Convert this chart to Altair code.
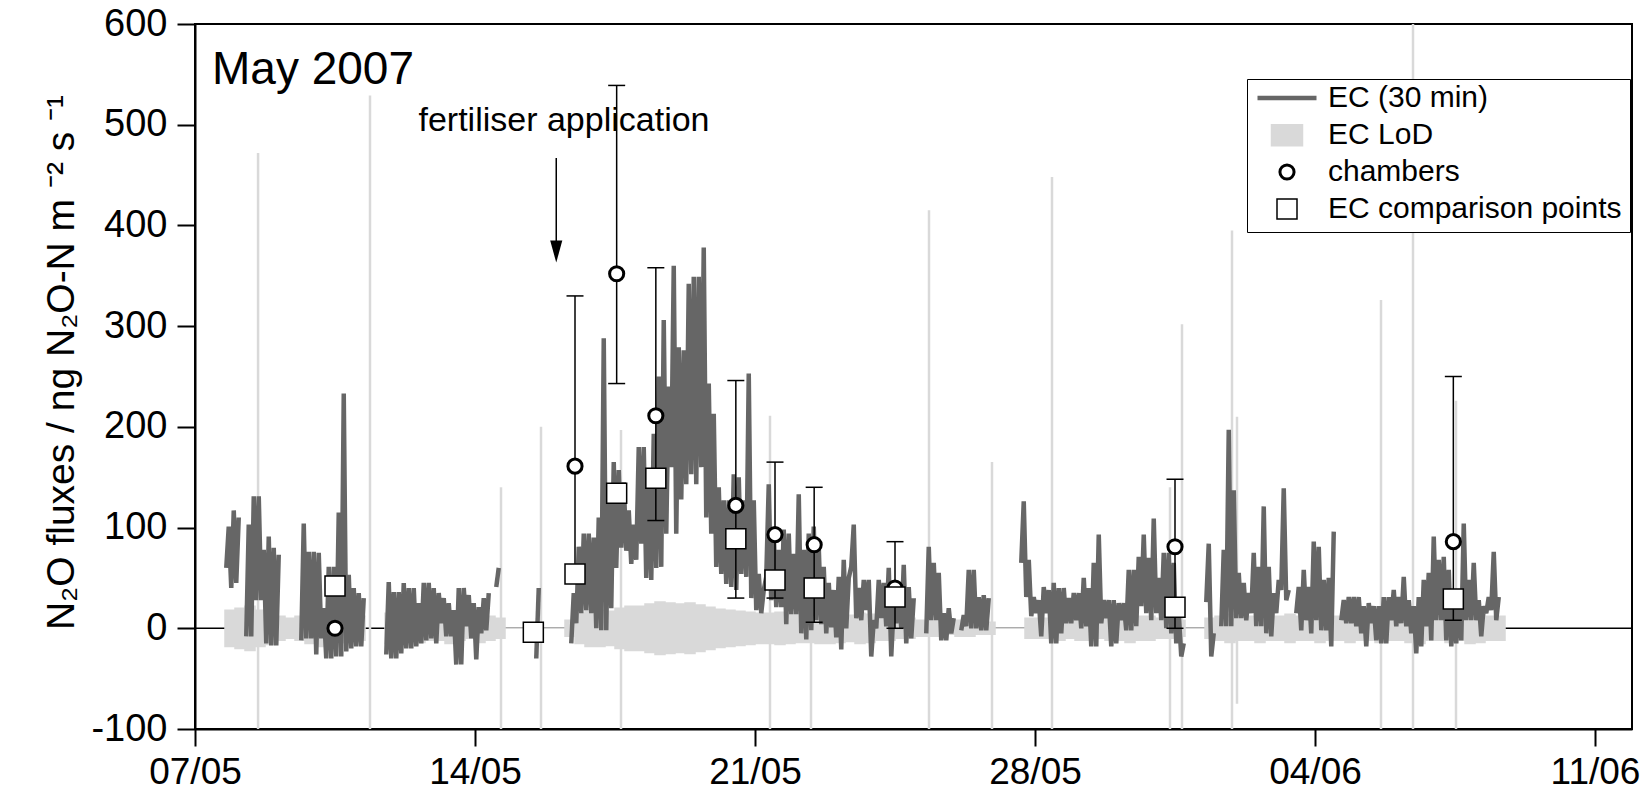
import altair as alt
import pandas as pd

FONT = "Arial"
START = pd.Timestamp("2007-05-07 00:00")
EC_BIN_HOURS = 3
LOD_BIN_HOURS = 6

# ---- EC (30 min) flux envelope, read per 3-hour bin (low / high), None = no data ----
ec_low = [
    None, None, None, None, None, None, 60, 40,          # 07/05
    45, None, -8, -8, 28, 28, -15, -17,                  # 08/05
    -17, None, None, None, None, -12, -10, -10,          # 09/05
    -26, -10, -30, -30, -28, -28, -23, -20,              # 10/05
    -18, -18, None, None, None, None, -26, -30,          # 11/05
    -30, -25, -20, -20, -18, -15, -12, -10,              # 12/05
    -15, 5, -8, -8, -36, -36, 2, -10,                    # 13/05
    -31, -5, -2, None, 41, None, None, None,             # 14/05
    None, None, None, None, -30, None, None, None,       # 15/05
    None, None, None, -15, 5, 15, 18, 15,                # 16/05
    0, -2, -2, 20, 60, 80, 77, 64,                       # 17/05
    68, 84, 50, 48, 60, 61, 94, 160,                     # 18/05
    94, 128, 143, 153, 143, 160, 110, 94,                # 19/05
    61, 54, 44, 41, 38, 54, 51, 30,                      # 20/05
    18, 15, 51, 28, 21, 21, 4, 14,                       # 21/05
    14, -5, -11, -2, 8, 4, -5, 1,                        # 22/05
    -9, -21, 0, 61, 10, 8, 18, -28,                      # 23/05
    0, 10, 2, -28, 5, 0, -15, -10,                       # 24/05
    None, None, -5, 8, 8, -12, -12, -5,                  # 25/05
    None, -2, 2, 0, 0, -2, -2, None,                     # 26/05
    None, None, None, None, None, 65, 31, 12,            # 27/05
    15, -8, 15, -15, -15, -5, 5, 5,                      # 28/05
    8, 0, 2, -18, -18, 5, 10, -18,                       # 29/05
    -15, 8, -2, -2, 2, 22, 15, 8,                        # 30/05
    15, 8, 0, -5, -15, -28, None, None,                  # 31/05
    None, None, 26, -28, None, 2, 2, 2,                  # 01/06
    10, 10, 8, 15, 2, 2, -5, -8,                         # 02/06
    15, 38, 28, None, 15, -2, 8, -5,                     # 03/06
    8, -2, -2, -18, None, 8, 5, 5,                       # 04/06
    2, -5, -18, 5, -12, -15, -15, 8,                     # 05/06
    2, 5, 2, -5, -25, -18, 2, -12,                       # 06/06
    8, 8, -12, -18, -15, -12, 8, 8,                      # 07/06
    8, -8, 15, 18, 8,                                    # 08/06
]
ec_high = [
    None, None, None, None, None, None, 101, 117,
    110, None, 103, 131, 131, 78, 91, 80,
    73, None, None, None, None, 104, 76, 76,
    75, 20, 61, 61, 115, 233, 53, 40,
    35, 30, None, None, None, None, 46, 36,
    36, 45, 40, 40, 25, 45, 45, 40,
    35, 30, 25, 18, 40, 40, 33, 25,
    21, 30, 35, None, 60, None, None, None,
    None, None, None, None, 40, None, None, None,
    None, None, None, 35, 81, 94, 94, 90,
    110, 288, 144, 165, 157, 145, 117, 103,
    180, 180, 150, 193, 250, 306, 240, 360,
    279, 276, 342, 349, 349, 378, 243, 213,
    140, 127, 127, 153, 150, 127, 253, 127,
    54, 38, 143, 94, 78, 98, 94, 74,
    133, 78, 94, 101, 81, 61, 45, 38,
    51, 68, 50, 103, 40, 48, 48, 8,
    48, 45, 60, 25, 40, 63, 41, 30,
    None, None, 81, 65, 55, 15, 20, 10,
    None, 13, 58, 58, 31, 33, 30, None,
    None, None, None, None, None, 126, 68, 31,
    28, 41, 38, 45, 40, 40, 30, 35,
    35, 50, 40, 65, 93, 28, 28, 28,
    25, 25, 58, 58, 71, 93, 70, 109,
    50, 75, 75, 65, 15, -15, None, None,
    None, None, 84, -5, None, 78, 197, 137,
    55, 45, 35, 75, 61, 121, 61, 35,
    48, 139, 38, None, 41, 58, 41, 86,
    81, 48, 50, 96, None, 28, 31, 31,
    31, 22, 25, 22, 22, 31, 31, 38,
    31, 51, 28, 22, 31, 48, 55, 91,
    68, 71, 58, 28, 35, 104, 48, 65,
    28, 22, 31, 76, 31,
]

# ---- EC limit of detection (half width of band), per 6-hour bin ----
lod_half = [
    None, None, None, 18,   20, 22, 18, 16,   12, 10, 12, 15,   18, 15, 14, 12,
    12, None, None, 15,     15, 12, 14, 12,   12, 15, 12, 10,   14, 12, 10, 0,
    0, 0, 0, 0,             0, 8, 15, 18,     18, 17, 20, 22,   22, 24, 26, 25,
    24, 25, 23, 21,         19, 18, 17, 16,   15, 15, 16, 15,   14, 14, 15, 15,
    14, 13, 15, 14,         12, 12, 10, 10,   8, 8, 8, 6,       8, 8, 6, 6,
    0, 0, 0, 10,            10, 10, 12, 10,   12, 12, 10, 12,   12, 14, 12, 12,
    10, 10, 8, 0,           0, 10, 12, 14,    12, 12, 14, 12,   12, 14, 12, 12,
    14, 12, 12, 14,         12, 12, 14, 12,   12, 14, 15, 12,   12, 14, 12, 15,
    14, 12, 12,
]
# isolated very large LoD values (single half-hours)
spike_times = ["2007-05-08 13:50", "2007-05-11 09:00", "2007-05-14 15:36", "2007-05-15 15:36",
               "2007-05-17 15:36", "2007-05-21 09:00", "2007-05-22 09:36", "2007-05-25 08:24",
               "2007-05-26 22:12", "2007-05-28 10:12", "2007-05-31 09:00", "2007-05-31 16:12",
               "2007-06-01 22:12", "2007-06-02 01:12", "2007-06-05 15:36", "2007-06-06 10:48",
               "2007-06-07 12:36"]
spike_low = [-100, -100, -100, -100, -100, -100, -100, -100, -100, -100, -100, -100,
             -100, -75, -100, -100, -100]
spike_high = [472, 529, 140, 200, 197, 211, 20, 415, 165, 448, 140, 302, 395, 210, 326, 600, 226]

# ---- chambers and EC comparison points ----
chamber_times = ["2007-05-10 12:00", "2007-05-15 11:00", "2007-05-16 12:00", "2007-05-17 13:00",
                 "2007-05-18 12:30", "2007-05-20 12:30", "2007-05-21 12:00", "2007-05-22 11:30",
                 "2007-05-24 12:00", "2007-05-31 12:00", "2007-06-07 11:00"]
chamber_flux = [0, -3, 161, 352, 211, 122, 93, 83, 40, 81, 86]
chamber_low = [None, None, 58, 243, 107, 30, 30, 6, 0, 0, 8]
chamber_high = [None, None, 330, 539, 358, 246, 165, 140, 86, 148, 250]
ec_comparison = [42, -4, 54, 134, 149, 89, 48, 40, 31, 21, 29]

# ---- annotations ----
title_text = ["May 2007"]
title_time = ["2007-05-07 10:12"]
title_value = [540]
note_text = ["fertiliser application"]
note_time = ["2007-05-16 05:24"]
note_value = [494]
arrow_time = ["2007-05-16 00:45"]
arrow_top = [467]
arrow_tip = [380]
arrow_head = [374]

series_domain = ["EC (30 min)", "EC LoD", "chambers", "EC comparison points"]
fill_range = ["#666666", "#d9d9d9", "white", "white"]
stroke_range = ["#666666", "#d9d9d9", "black", "black"]
shape_range = ["stroke", "M-1,-0.7H1V0.7H-1Z", "circle", "square"]
size_range = [3481, 961, 200, 400]
width_range = [4.5, 1.5, 3, 1.5]

Y_TITLE = "N\u2082O fluxes / ng N\u2082O-N m \u207b\u00b2 s \u207b\u00b9"

# ---------- build tables ----------
ec_rows = []
seg = 0
prev = None
for k, (lo, hi) in enumerate(zip(ec_low, ec_high)):
    if lo is None:
        prev = None
        continue
    if prev is None:
        seg += 1
    prev = k
    t0 = START + pd.Timedelta(hours=EC_BIN_HOURS * k)
    ec_rows.append({"t": t0 + pd.Timedelta(minutes=45), "v": lo, "seg": seg, "series": series_domain[0]})
    ec_rows.append({"t": t0 + pd.Timedelta(minutes=135), "v": hi, "seg": seg, "series": series_domain[0]})
ec_df = pd.DataFrame(ec_rows)

lod_rows = []
seg = 0
prev = None
for j, h in enumerate(lod_half):
    if h is None:
        prev = None
        continue
    if prev is None:
        seg += 1
    prev = j
    t0 = START + pd.Timedelta(hours=LOD_BIN_HOURS * j)
    for t in (t0, t0 + pd.Timedelta(hours=LOD_BIN_HOURS)):
        lod_rows.append({"t": t, "lo": -h, "hi": h, "seg": seg, "series": series_domain[1]})
lod_df = pd.DataFrame(lod_rows)

spike_df = pd.DataFrame({"t": pd.to_datetime(spike_times), "lo": spike_low, "hi": spike_high})

ct = pd.to_datetime(chamber_times)
pts_df = pd.concat([
    pd.DataFrame({"t": ct, "v": chamber_flux, "series": series_domain[2]}),
    pd.DataFrame({"t": ct, "v": ec_comparison, "series": series_domain[3]}),
], ignore_index=True)
err_df = pd.DataFrame({"t": ct, "lo": chamber_low, "hi": chamber_high}).dropna()
cap_df = pd.concat([
    pd.DataFrame({"t": err_df["t"], "v": err_df["lo"]}),
    pd.DataFrame({"t": err_df["t"], "v": err_df["hi"]}),
], ignore_index=True)

zero_df = pd.DataFrame({"v": [0]})
title_df = pd.DataFrame({"t": pd.to_datetime(title_time), "v": title_value, "txt": title_text})
note_df = pd.DataFrame({"t": pd.to_datetime(note_time), "v": note_value, "txt": note_text})
arrow_df = pd.DataFrame({"t": pd.to_datetime(arrow_time), "top": arrow_top, "tip": arrow_tip,
                         "head": arrow_head})

# ---------- encodings ----------
x_scale = alt.Scale(domain=[alt.DateTime(year=2007, month=5, date=7),
                            alt.DateTime(year=2007, month=6, date=11, hours=22, minutes=12)])
x_axis = alt.Axis(values=[alt.DateTime(year=2007, month=5, date=d) for d in (7, 14, 21, 28)]
                  + [alt.DateTime(year=2007, month=6, date=d) for d in (4, 11)],
                  format="%d/%m", labelFontSize=37, tickSize=17, labelPadding=8,
                  labelFlush=False, labelOverlap=False)
y_scale = alt.Scale(domain=[-100, 600], nice=False, zero=False)
y_axis = alt.Axis(values=[-100, 0, 100, 200, 300, 400, 500, 600], labelFontSize=38,
                  labelExpr="'' + datum.value",
                  tickSize=18, labelPadding=10, titleFontSize=39, titleFontWeight="normal",
                  titlePadding=9, titleY=338)


def X(field="t"):
    return alt.X(f"{field}:T", scale=x_scale, axis=x_axis, title=None)


def Y(field):
    return alt.Y(f"{field}:Q", scale=y_scale, axis=y_axis, title=Y_TITLE)


legend = alt.Legend(title=None)
fill_enc = alt.Fill("series:N", scale=alt.Scale(domain=series_domain, range=fill_range), legend=legend)
stroke_enc = alt.Stroke("series:N", scale=alt.Scale(domain=series_domain, range=stroke_range), legend=legend)
shape_enc = alt.Shape("series:N", scale=alt.Scale(domain=series_domain, range=shape_range), legend=legend)
size_enc = alt.Size("series:N", scale=alt.Scale(type="ordinal", domain=series_domain, range=size_range),
                    legend=legend)
sw_enc = alt.StrokeWidth("series:N", scale=alt.Scale(type="ordinal", domain=series_domain, range=width_range),
                         legend=legend)

zero_line = alt.Chart(zero_df).mark_rule(color="black", strokeWidth=1.5).encode(y=Y("v"))

spikes = alt.Chart(spike_df).mark_rule(color="#d9d9d9", strokeWidth=2.5, clip=True).encode(
    x=X(), y=Y("lo"), y2="hi:Q")

lod = alt.Chart(lod_df).mark_area(opacity=1, clip=True).encode(
    x=X(), y=Y("lo"), y2="hi:Q", detail="seg:N", fill=fill_enc, stroke=stroke_enc,
    strokeWidth=sw_enc)

ec = alt.Chart(ec_df).mark_line(opacity=1, clip=True, strokeJoin="miter").encode(
    x=X(), y=Y("v"), detail="seg:N", stroke=stroke_enc, strokeWidth=sw_enc)

err = alt.Chart(err_df).mark_rule(color="black", strokeWidth=1.5).encode(
    x=X(), y=Y("lo"), y2="hi:Q")
caps = alt.Chart(cap_df).mark_tick(color="black", orient="horizontal", size=17,
                                   thickness=1.5, opacity=1).encode(x=X(), y=Y("v"))

points = alt.Chart(pts_df).mark_point(filled=True, opacity=1).encode(
    x=X(), y=Y("v"), shape=shape_enc, fill=fill_enc, stroke=stroke_enc, size=size_enc,
    strokeWidth=sw_enc)

title_mark = alt.Chart(title_df).mark_text(font=FONT, fontSize=46, align="left",
                                           baseline="alphabetic", color="black").encode(
    x=X(), y=Y("v"), text="txt:N")
note_mark = alt.Chart(note_df).mark_text(font=FONT, fontSize=34, align="center",
                                         baseline="alphabetic", color="black").encode(
    x=X(), y=Y("v"), text="txt:N")
arrow_shaft = alt.Chart(arrow_df).mark_rule(color="black", strokeWidth=1.5).encode(
    x=X(), y=Y("top"), y2="tip:Q")
arrow_tip_mark = alt.Chart(arrow_df).mark_point(filled=True, opacity=1, color="black",
                                                shape="M-0.55,-1L0.55,-1L0,1Z", size=484).encode(
    x=X(), y=Y("head"))

chart = alt.layer(
    zero_line, spikes, lod, ec, err, caps, points, title_mark, note_mark, arrow_shaft, arrow_tip_mark
).properties(
    width=1437, height=705,
    autosize=alt.AutoSizeParams(type="none"),
    padding={"left": 195, "top": 24, "right": 15, "bottom": 68},
).configure_view(
    stroke="black", strokeWidth=2
).configure_axis(
    domainColor="black", domainWidth=2, tickColor="black", tickWidth=2, grid=False,
    labelColor="black", labelFont=FONT, titleFont=FONT, titleColor="black"
).configure_legend(
    orient="none", legendX=1052, legendY=55, padding=8, strokeColor="black",
    fillColor="white", labelFont=FONT, labelFontSize=30, labelColor="black",
    labelOffset=9, rowPadding=7, clipHeight=22, symbolOffset=0, labelLimit=0
)

chart.save("out.html", embed_options={"renderer": "svg", "actions": False})
